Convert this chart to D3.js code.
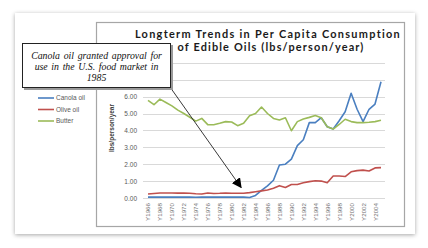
<!DOCTYPE html>
<html>
<head>
<meta charset="utf-8">
<script src="https://cdn.jsdelivr.net/npm/d3@7"></script>
<style>
  body { margin: 0; background: #fff; }
  svg { display: block; }
</style>
</head>
<body>
<svg id="chart" width="428" height="248"></svg>
<script>
// years 1966..2005
var years = d3.range(1966, 2006);
var gridTicks = [0, 1, 2, 3, 4, 5, 6, 7, 8];
var labelTicks = [0, 1, 2, 3, 4, 5, 6]; // 7.00 and 8.00 sit under the callout
var seriesNames = ["Canola oil", "Olive oil", "Butter"];

var canola = [0.05, 0.05, 0.06, 0.05, 0.05, 0.05, 0.06, 0.05, 0.04, 0.05,
  0.05, 0.05, 0.05, 0.05, 0.05, 0.05, 0.05, 0.03, 0.15, 0.45,
  0.72, 1.05, 1.95, 2.0, 2.3, 3.1, 3.45, 4.46, 4.46, 4.75,
  4.22, 4.08, 4.57, 5.1, 6.2, 5.25, 4.52, 5.25, 5.56, 6.88];
var olive = [0.24, 0.27, 0.3, 0.3, 0.3, 0.29, 0.3, 0.28, 0.25, 0.24,
  0.3, 0.27, 0.28, 0.3, 0.28, 0.28, 0.28, 0.32, 0.37, 0.42,
  0.47, 0.58, 0.73, 0.62, 0.8, 0.8, 0.9, 0.97, 1.02, 1.0,
  0.9, 1.3, 1.3, 1.27, 1.55, 1.62, 1.65, 1.6, 1.78, 1.8];
var butter = [5.78, 5.52, 5.85, 5.65, 5.45, 5.2, 5.0, 4.78, 4.55, 4.71,
  4.34, 4.33, 4.42, 4.52, 4.5, 4.28, 4.42, 4.87, 5.0, 5.38,
  5.0, 4.71, 4.62, 4.75, 3.98, 4.52, 4.67, 4.77, 4.88, 4.75,
  4.22, 4.08, 4.35, 4.66, 4.52, 4.46, 4.46, 4.48, 4.52, 4.6];

var titleLines = ["Longterm Trends in Per Capita Consumption", "of Edible Oils (lbs/person/year)"];
var noteLines = ["Canola oil granted approval for", "use in the U.S. food market in", "1985"];

var colors = ["#4a7fc0", "#c0504d", "#9bbb59"];
var data = [canola, olive, butter];

var svg = d3.select("#chart");
var defs = svg.append("defs");

var shadow = defs.append("filter").attr("id", "shadow")
  .attr("x", "-10%").attr("y", "-10%").attr("width", "120%").attr("height", "120%");
shadow.append("feDropShadow").attr("dx", 0).attr("dy", 1).attr("stdDeviation", 2.2)
  .attr("flood-color", "#000").attr("flood-opacity", 0.35);

defs.append("marker").attr("id", "arrow")
  .attr("viewBox", "0 0 10 10").attr("refX", 9).attr("refY", 5)
  .attr("markerWidth", 10).attr("markerHeight", 10).attr("markerUnits", "userSpaceOnUse")
  .attr("orient", "auto")
  .append("path").attr("d", "M0,0L10,5L0,10z").attr("fill", "#000");

// card
svg.append("rect").attr("x", 15).attr("y", 13).attr("width", 400).attr("height", 221)
  .attr("fill", "#fff").attr("filter", "url(#shadow)");

// chart frame
svg.append("rect").attr("x", 96.5).attr("y", 22.5).attr("width", 308).attr("height", 204)
  .attr("fill", "#fff").attr("stroke", "#a6a6a6").attr("stroke-width", 1.2);

var x = d3.scalePoint().domain(years).range([148, 381]);
var y = d3.scaleLinear().domain([0, 8]).range([198, 62.8]);

// gridlines
svg.append("g").selectAll("line").data(gridTicks).join("line")
  .attr("x1", 143).attr("x2", 385)
  .attr("y1", d => Math.round(y(d)) + 0.5).attr("y2", d => Math.round(y(d)) + 0.5)
  .attr("stroke", "#d9d9d9").attr("stroke-width", 1);

// y axis labels
var yAxis = svg.append("g").attr("transform", "translate(141,0)")
  .call(d3.axisLeft(y).tickValues(labelTicks).tickFormat(d3.format(".2f")).tickSize(0).tickPadding(4));
yAxis.select(".domain").remove();
yAxis.selectAll("text").attr("font-family", "Liberation Sans, Arial, sans-serif")
  .attr("font-size", 6.5).attr("fill", "#595959");

// x axis labels
var xAxis = svg.append("g").attr("transform", "translate(0,201)")
  .call(d3.axisBottom(x).tickValues(years.filter(d => d % 2 === 0)).tickFormat(d => "Y" + d).tickSize(0).tickPadding(0));
xAxis.select(".domain").remove();
xAxis.selectAll("text")
  .attr("font-family", "Liberation Sans, Arial, sans-serif").attr("font-size", 6.2)
  .attr("fill", "#6f6f6f")
  .attr("text-anchor", "end").attr("dy", "0.32em")
  .attr("transform", "rotate(-90)").attr("x", -2).attr("y", 0);

// y title
svg.append("text").attr("transform", "translate(114,128) rotate(-90)")
  .attr("text-anchor", "middle").attr("font-family", "Liberation Sans, Arial, sans-serif")
  .attr("font-size", 6.5).attr("font-weight", "bold").attr("fill", "#404040")
  .text("lbs/person/year");

// lines
var line = d3.line().x((d, i) => x(years[i])).y(d => y(d));
svg.append("g").selectAll("path").data(data).join("path")
  .attr("d", d => line(d)).attr("fill", "none")
  .attr("stroke", (d, i) => colors[i]).attr("stroke-width", 1.6)
  .attr("stroke-linejoin", "round");

// title, each line spaced out to the width it has in the original
var titleWidths = [265, 186];
svg.append("g").selectAll("text").data(titleLines).join("text")
  .attr("x", (d, i) => i ? 271 : 268).attr("y", (d, i) => 37.5 + i * 13.4)
  .attr("text-anchor", "middle").attr("font-family", "Lato, sans-serif")
  .attr("font-weight", "bold").attr("font-size", 10.9).attr("fill", "#1a1a1a")
  .text(d => d)
  .each(function(d, i) {
    var ls = Math.max(0, (titleWidths[i] - this.getComputedTextLength()) / (d.length - 1));
    d3.select(this).attr("letter-spacing", ls.toFixed(2));
  });

// legend
var legend = svg.append("g").selectAll("g").data(seriesNames).join("g")
  .attr("transform", (d, i) => `translate(38,${98 + i * 11.5})`);
legend.append("line").attr("x1", 0).attr("x2", 16).attr("y1", 0).attr("y2", 0)
  .attr("stroke", (d, i) => colors[i]).attr("stroke-width", 1.6);
legend.append("text").attr("x", 18).attr("dy", "0.35em")
  .attr("font-family", "Liberation Sans, Arial, sans-serif").attr("font-size", 6.5)
  .attr("fill", "#595959").text(d => d);

// callout arrow
svg.append("line").attr("x1", 170).attr("y1", 87).attr("x2", x(1981) + 3.5).attr("y2", y(0.62))
  .attr("stroke", "#222").attr("stroke-width", 0.9).attr("marker-end", "url(#arrow)");

// callout box
svg.append("rect").attr("x", 24).attr("y", 45).attr("width", 149).attr("height", 45)
  .attr("fill", "#9a9a9a");
svg.append("rect").attr("x", 22.5).attr("y", 43.5).attr("width", 148).attr("height", 44)
  .attr("fill", "#fff").attr("stroke", "#222").attr("stroke-width", 1);
svg.append("g").selectAll("text").data(noteLines).join("text")
  .attr("x", 96.5).attr("y", (d, i) => 58.5 + i * 11)
  .attr("text-anchor", "middle").attr("font-family", "Liberation Serif, Times New Roman, serif")
  .attr("font-style", "italic").attr("font-size", 9.8).attr("fill", "#111")
  .attr("word-spacing", 1.2)
  .text(d => d);
</script>
</body>
</html>
